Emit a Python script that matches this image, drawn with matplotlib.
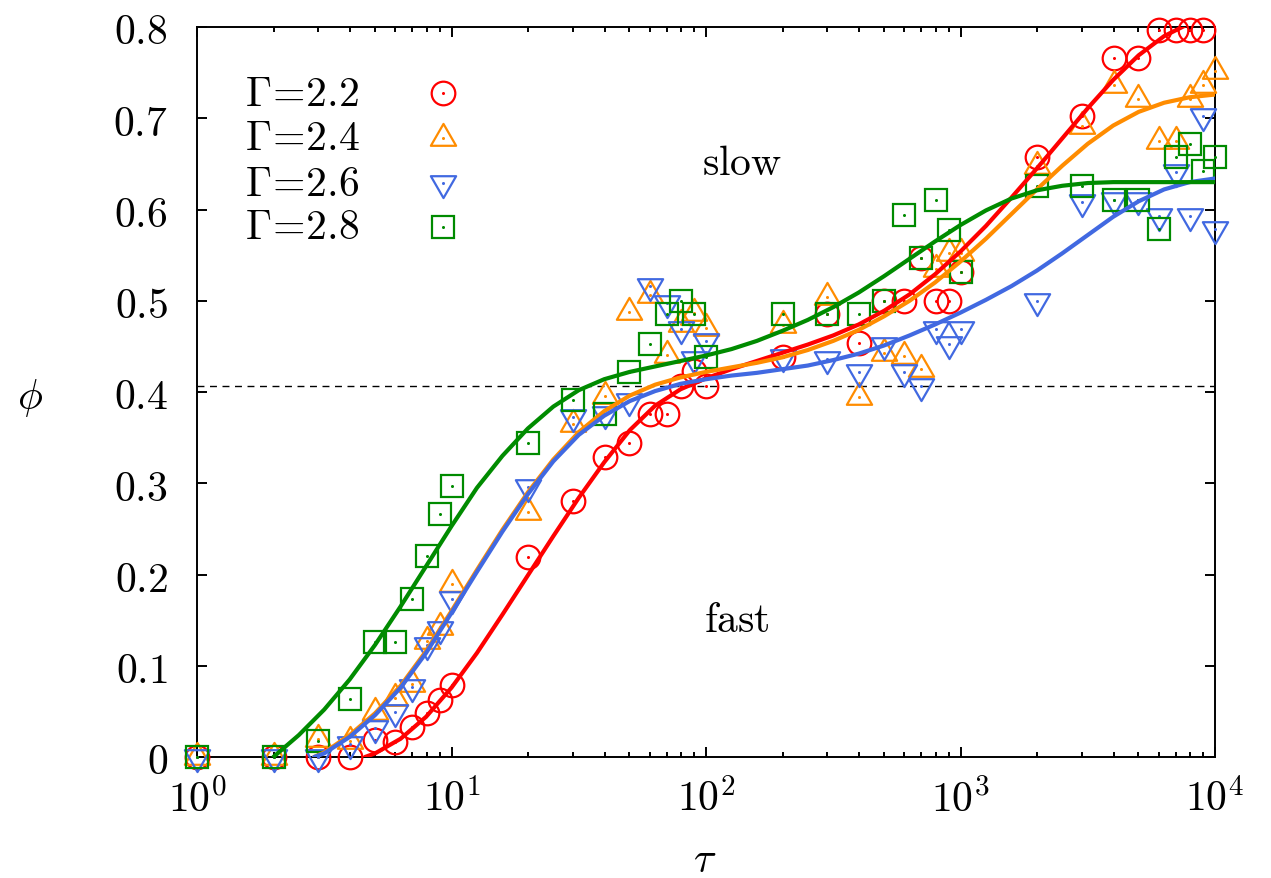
import numpy as np
import matplotlib
matplotlib.use("Agg")
import matplotlib.pyplot as plt
from matplotlib.path import Path
from matplotlib.ticker import FixedLocator, FixedFormatter, NullFormatter

# ---------------- data ----------------
tau = [1, 2, 3, 4, 5, 6, 7, 8, 9, 10,
       20, 30, 40, 50, 60, 70, 80, 90, 100,
       200, 300, 400, 500, 600, 700, 800, 900, 1000,
       2000, 3000, 4000, 5000, 6000, 7000, 8000, 9000, 10000]

phi_22 = [0, 0, 0, 0, 0.019, 0.016, 0.033, 0.048, 0.063, 0.079,
          0.219, 0.281, 0.329, 0.344, 0.376, 0.376, 0.407, 0.423, 0.407,
          0.438, 0.485, 0.454, 0.500, 0.500, 0.547, 0.500, 0.500, 0.531,
          0.657, 0.703, 0.766, 0.766, 0.797, 0.797, 0.797, 0.797, np.nan]
phi_24 = [0, 0, 0.020, 0.018, 0.049, 0.065, 0.080, 0.127, 0.142, 0.190,
          0.268, 0.365, 0.396, 0.488, 0.506, 0.441, 0.475, 0.487, 0.470,
          0.473, 0.504, 0.394, 0.443, 0.440, 0.425, 0.535, 0.552, 0.552,
          0.648, 0.692, 0.736, 0.721, 0.675, 0.675, 0.721, 0.736, 0.752]
phi_26 = [0, 0, 0, 0.014, 0.032, 0.049, 0.077, 0.123, 0.140, 0.173,
          0.296, 0.373, 0.376, 0.390, 0.516, 0.498, 0.469, 0.436, 0.456,
          0.438, 0.436, 0.422, 0.452, 0.422, 0.407, 0.469, 0.453, 0.469,
          0.500, 0.608, 0.610, 0.610, 0.593, 0.641, 0.593, 0.703, 0.579]
phi_28 = [0, 0, 0.017, 0.064, 0.126, 0.126, 0.173, 0.220, 0.266, 0.297,
          0.344, 0.391, 0.376, 0.422, 0.453, 0.485, 0.500, 0.485, 0.438,
          0.485, 0.485, 0.485, 0.500, 0.594, 0.547, 0.610, 0.578, 0.531,
          0.626, 0.626, 0.610, 0.610, 0.579, 0.657, 0.672, 0.642, 0.657]

# fitted curves (log10 tau, phi)
fit_logtau_22 = [0.66, 0.7, 0.8, 0.9, 1.0, 1.1, 1.2, 1.3, 1.4, 1.5, 1.6, 1.7, 1.8,
                 1.9, 2.0, 2.1, 2.2, 2.3, 2.4, 2.5, 2.6, 2.7, 2.8, 2.9, 3.0, 3.1,
                 3.2, 3.3, 3.4, 3.5, 3.6, 3.7, 3.8, 3.9, 4.0]
fit_phi_22 = [0.0, 0.004, 0.020, 0.044, 0.076, 0.114, 0.156, 0.199, 0.242, 0.284,
              0.323, 0.358, 0.385, 0.403, 0.415, 0.425, 0.434, 0.443, 0.452, 0.462,
              0.474, 0.489, 0.507, 0.529, 0.554, 0.582, 0.613, 0.645, 0.678, 0.711,
              0.742, 0.769, 0.790, 0.804, 0.812]

fit_logtau_24 = [0.46, 0.5, 0.6, 0.7, 0.8, 0.9, 1.0, 1.1, 1.2, 1.3, 1.4, 1.5, 1.6,
                 1.7, 1.8, 1.9, 2.0, 2.1, 2.2, 2.3, 2.4, 2.5, 2.6, 2.7, 2.8, 2.9,
                 3.0, 3.1, 3.2, 3.3, 3.4, 3.5, 3.6, 3.7, 3.8, 3.9, 4.0]
fit_phi_24 = [0.0, 0.005, 0.024, 0.048, 0.078, 0.116, 0.160, 0.205, 0.249, 0.290,
              0.326, 0.356, 0.379, 0.396, 0.408, 0.416, 0.422, 0.427, 0.432, 0.438,
              0.446, 0.456, 0.468, 0.483, 0.500, 0.520, 0.543, 0.568, 0.595, 0.622,
              0.648, 0.672, 0.692, 0.707, 0.717, 0.723, 0.726]

fit_logtau_26 = fit_logtau_24
fit_phi_26 = [0.0, 0.004, 0.022, 0.046, 0.076, 0.114, 0.158, 0.203, 0.247, 0.288,
              0.324, 0.353, 0.374, 0.390, 0.401, 0.409, 0.414, 0.418, 0.421, 0.425,
              0.429, 0.435, 0.442, 0.451, 0.462, 0.474, 0.487, 0.501, 0.516, 0.533,
              0.552, 0.572, 0.592, 0.609, 0.622, 0.630, 0.634]

fit_logtau_28 = [0.3, 0.4, 0.5, 0.6, 0.7, 0.8, 0.9, 1.0, 1.1, 1.2, 1.3, 1.4, 1.5,
                 1.6, 1.7, 1.8, 1.9, 2.0, 2.1, 2.2, 2.3, 2.4, 2.5, 2.6, 2.7, 2.8,
                 2.9, 3.0, 3.1, 3.2, 3.3, 3.4, 3.5, 3.6, 3.7, 3.8, 3.9, 4.0]
fit_phi_28 = [0.0, 0.024, 0.052, 0.085, 0.123, 0.165, 0.209, 0.253, 0.295, 0.330,
              0.360, 0.384, 0.402, 0.414, 0.422, 0.428, 0.434, 0.440, 0.447, 0.456,
              0.467, 0.479, 0.493, 0.509, 0.527, 0.546, 0.565, 0.583, 0.599, 0.612,
              0.621, 0.626, 0.629, 0.630, 0.630, 0.630, 0.630, 0.630]

threshold = 0.407
labels = [r"$\Gamma\!=\!2.2$", r"$\Gamma\!=\!2.4$", r"$\Gamma\!=\!2.6$", r"$\Gamma\!=\!2.8$"]
x_ticks = [1, 10, 100, 1000, 10000]
x_ticklabels = [r"$10^{0}$", r"$10^{1}$", r"$10^{2}$", r"$10^{3}$", r"$10^{4}$"]
y_ticks = [0, 0.1, 0.2, 0.3, 0.4, 0.5, 0.6, 0.7, 0.8]
y_ticklabels = [r"$0$", r"$0.1$", r"$0.2$", r"$0.3$", r"$0.4$", r"$0.5$",
                r"$0.6$", r"$0.7$", r"$0.8$"]

# ---------------- style ----------------
plt.rcParams["mathtext.fontset"] = "cm"
plt.rcParams["font.family"] = ["DejaVu Serif"]
FS = 30

colors = ["#ff0000", "#ff8c00", "#4169e1", "#008b00"]


def tri(up=True):
    s = 1.0 if up else -1.0
    verts = [(0, s * 1.0), (-0.866, -s * 0.5), (0.866, -s * 0.5), (0, s * 1.0)]
    return Path(verts, [Path.MOVETO, Path.LINETO, Path.LINETO, Path.CLOSEPOLY])


markers = ["o", tri(True), tri(False), "s"]
msizes = [17, 21, 21, 16.5]

fig = plt.figure(figsize=(12.71, 8.79), dpi=100)
ax = fig.add_axes([197 / 1271, 1 - 758 / 879, (1215 - 197) / 1271, (758 - 28) / 879])
ax.set_xscale("log")
ax.set_xlim(1, 10000)
ax.set_ylim(0, 0.8)

ax.axhline(threshold, color="black", lw=1.0, ls=(0, (5, 4)), zorder=1)

series = [phi_22, phi_24, phi_26, phi_28]
for vals, c, m, ms in zip(series, colors, markers, msizes):
    ax.plot(tau, vals, ls="none", marker=m, ms=ms, mfc="none", mec=c, mew=1.6,
            clip_on=False, zorder=3)
    ax.plot(tau, vals, ls="none", marker="o", ms=2.2, mfc=c, mec="none",
            clip_on=False, zorder=3)

fits = [(fit_logtau_22, fit_phi_22), (fit_logtau_24, fit_phi_24),
        (fit_logtau_26, fit_phi_26), (fit_logtau_28, fit_phi_28)]
for (lt, ph), c in zip(fits, colors):
    ax.plot(10 ** np.asarray(lt), ph, color=c, lw=3.0, zorder=4,
            solid_capstyle="round", solid_joinstyle="round")

# legend (manual, gnuplot style)
rows = [93.5, 138.5, 183.5, 227.5]
for lab, c, m, ms, yp in zip(labels, colors, markers, msizes, rows):
    ya = (758 - yp) / 730
    ax.text((245 - 197) / 1018, ya, lab, transform=ax.transAxes, fontsize=FS,
            ha="left", va="center")
    xa = (443 - 197) / 1018
    ax.plot([xa], [ya], transform=ax.transAxes, ls="none", marker=m, ms=ms,
            mfc="none", mec=c, mew=1.6, clip_on=False, zorder=5)
    ax.plot([xa], [ya], transform=ax.transAxes, ls="none", marker="o", ms=2.2,
            mfc=c, mec="none", clip_on=False, zorder=5)

ax.text(138.5, 0.652, r"$\mathrm{slow}$", fontsize=FS, ha="center", va="center")
ax.text(132.4, 0.151, r"$\mathrm{fast}$", fontsize=FS, ha="center", va="center")

# ticks
ax.xaxis.set_major_locator(FixedLocator(x_ticks))
ax.xaxis.set_major_formatter(FixedFormatter(x_ticklabels))
minor = [m * d for d in [1, 10, 100, 1000] for m in range(2, 10)]
ax.xaxis.set_minor_locator(FixedLocator(minor))
ax.xaxis.set_minor_formatter(NullFormatter())
ax.yaxis.set_major_locator(FixedLocator(y_ticks))
ax.yaxis.set_major_formatter(FixedFormatter(y_ticklabels))
ax.tick_params(which="both", direction="in", top=True, right=True, width=1.4,
               labelsize=FS)
ax.tick_params(which="major", length=7.5)
ax.tick_params(which="minor", length=3.8)
ax.tick_params(axis="y", pad=21)
ax.tick_params(axis="x", pad=15)
for sp in ax.spines.values():
    sp.set_linewidth(1.4)

ax.set_xlabel(r"$\tau$", fontsize=FS, va="center")
ax.xaxis.set_label_coords((705 - 197) / 1018, (758 - 860) / 730)
ax.set_ylabel(r"$\phi$", fontsize=FS, rotation=0, va="center", ha="center")
ax.yaxis.set_label_coords((30 - 197) / 1018, (758 - 398) / 730)

fig.savefig("out.png", dpi=100)
